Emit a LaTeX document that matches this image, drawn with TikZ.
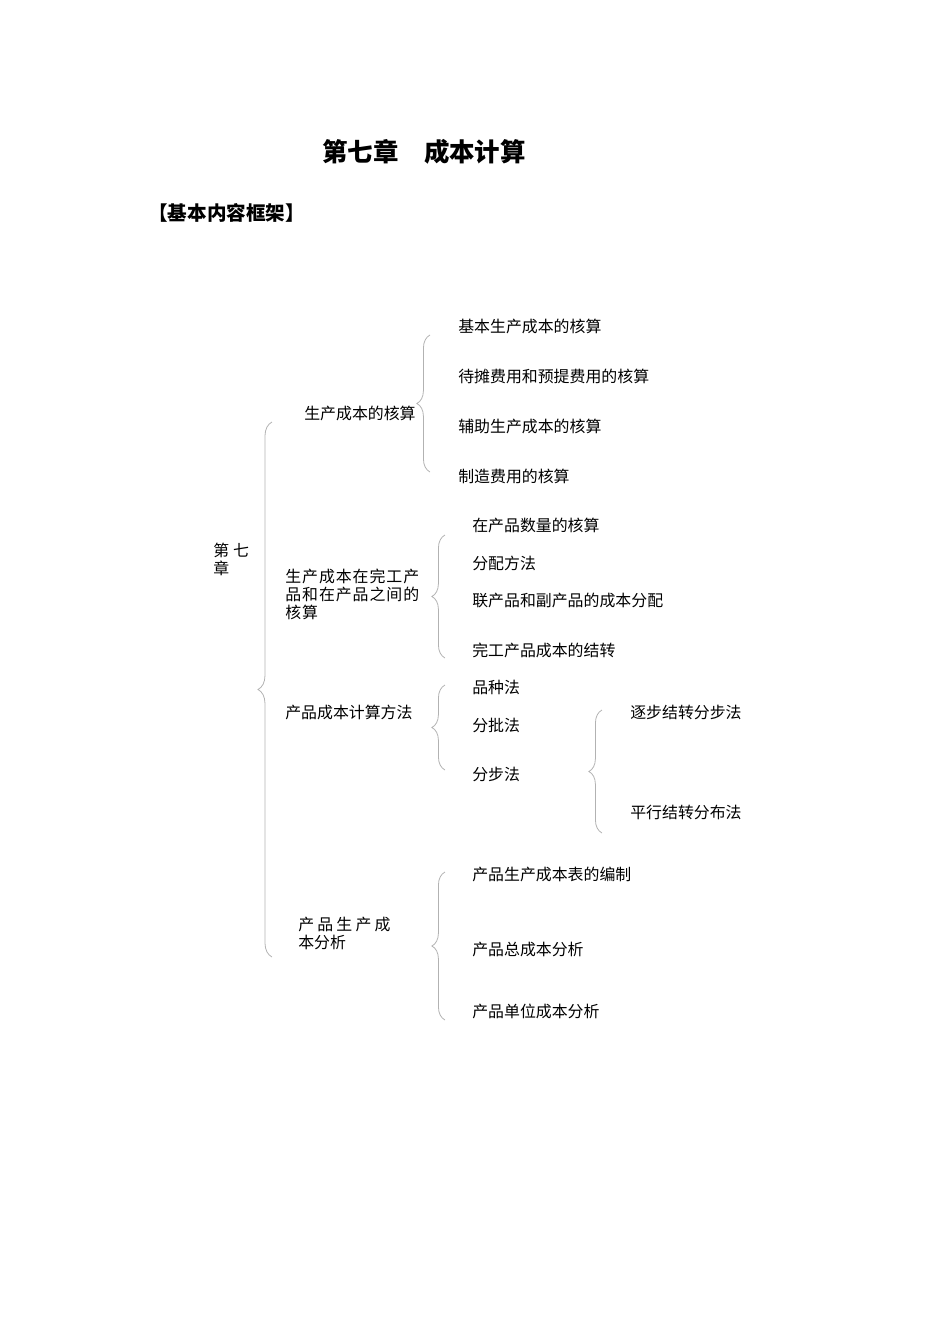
\documentclass[tikz,border=0pt]{standalone}
\usepackage{fontspec}
\setmainfont{Noto Sans CJK SC}
\usetikzlibrary{decorations.pathreplacing}

\tikzset{
  txt/.style={anchor=west, inner sep=0pt, align=left,
    font=\fontsize{10}{11.3}\selectfont},
  brc/.style={draw=black!30, line width=0.5pt, decorate,
    decoration={brace, amplitude=2.9mm}}
}

\begin{document}
\begin{tikzpicture}[x=0.221mm, y=-0.221mm]
  \useasboundingbox (0,0) rectangle (950,1344);

  % headings
  \node (title) [inner sep=0pt, font=\fontsize{16}{18}\selectfont\bfseries] at (424,152) {第七章　成本计算};
  \node (frame) [txt, font=\fontsize{12.3}{14}\selectfont\bfseries] at (148,213) {【基本内容框架】};

  % chapter and topics
  \node (ch) [txt] at (213,559) {第\hspace{2.5pt}七\\章};
  \node (t1) [txt] at (304,413) {生产成本的核算};
  \node (t2) [txt, font=\fontsize{10}{11.3}\selectfont\addfontfeature{LetterSpace=6}] at (285,594) {生产成本在完工产\\品和在产品之间的\\核算};
  \node (t3) [txt] at (285,712) {产品成本计算方法};
  \node (t4) [txt] at (298,933) {产\hspace{2pt}品\hspace{2pt}生\hspace{2pt}产\hspace{2pt}成\\本分析};

  % items
  \node (a1) [txt] at (458,326) {基本生产成本的核算};
  \node (a2) [txt] at (458,376) {待摊费用和预提费用的核算};
  \node (a3) [txt] at (458,426) {辅助生产成本的核算};
  \node (a4) [txt] at (458,476) {制造费用的核算};

  \node (b1) [txt] at (472,525) {在产品数量的核算};
  \node (b2) [txt] at (472,563) {分配方法};
  \node (b3) [txt] at (472,600) {联产品和副产品的成本分配};
  \node (b4) [txt] at (472,650) {完工产品成本的结转};

  \node (c1) [txt] at (472,687) {品种法};
  \node (c2) [txt] at (472,725) {分批法};
  \node (c3) [txt] at (472,774) {分步法};
  \node (c31) [txt] at (630,712) {逐步结转分步法};
  \node (c32) [txt] at (630,812) {平行结转分布法};

  \node (d1) [txt] at (472,874) {产品生产成本表的编制};
  \node (d2) [txt] at (472,949) {产品总成本分析};
  \node (d3) [txt] at (472,1011) {产品单位成本分析};

  % brace ends
  \coordinate (m-t) at (272,422);  \coordinate (m-b) at (272,957);
  \coordinate (a-t) at (430,335);  \coordinate (a-b) at (430,472);
  \coordinate (b-t) at (445,535);  \coordinate (b-b) at (445,658);
  \coordinate (c-t) at (445,685);  \coordinate (c-b) at (445,770);
  \coordinate (e-t) at (602,710);  \coordinate (e-b) at (602,833);
  \coordinate (d-t) at (445,872);  \coordinate (d-b) at (445,1020);

  \draw[brc, decoration={amplitude=3.1mm}] (m-b) -- (m-t);
  \draw[brc] (a-b) -- (a-t);
  \draw[brc] (b-b) -- (b-t);
  \draw[brc] (c-b) -- (c-t);
  \draw[brc] (e-b) -- (e-t);
  \draw[brc] (d-b) -- (d-t);
\end{tikzpicture}
\end{document}
